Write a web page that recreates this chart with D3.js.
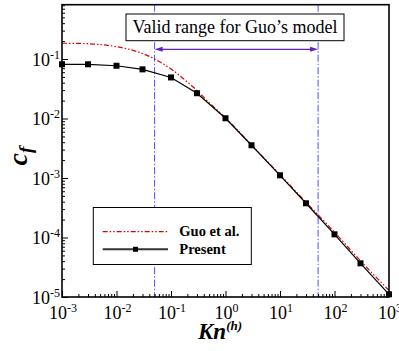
<!DOCTYPE html>
<html>
<head>
<meta charset="utf-8">
<script src="https://cdn.jsdelivr.net/npm/d3@7"></script>
<style>
  body { margin: 0; background: #fff; }
  svg { display: block; }
</style>
</head>
<body>
<svg id="chart" width="399" height="351"></svg>
<script>
// Skin-friction coefficient versus Knudsen number
const knPresent = [0.001, 0.003, 0.01, 0.03, 0.1, 0.3, 1, 3, 10, 30, 100, 300, 1000];
const cfPresent = [0.0815, 0.0815, 0.077, 0.067, 0.049, 0.0266, 0.0101, 0.00355, 0.00111, 0.000376, 0.000113, 0.0000368, 0.0000111];

const knGuo = [0.001, 0.002, 0.005, 0.01, 0.02, 0.03, 0.05, 0.1, 0.2, 0.3, 0.5, 1, 3, 10, 30, 100, 300, 1000];
const cfGuo = [0.184, 0.183, 0.175, 0.161, 0.140, 0.124, 0.100, 0.068, 0.041, 0.0295, 0.0185, 0.0103, 0.0036, 0.00114, 0.000392, 0.000123, 0.0000405, 0.0000129];

const xTickExps = [-3, -2, -1, 0, 1, 2, 3];
const yTickExps = [-5, -4, -3, -2, -1];
const validRange = [0.05, 50];
const rangeLabel = "Valid range for Guo\u2019s model";
const legendLabels = ["Guo et al.", "Present"];

const FONT = '"Liberation Serif", "Times New Roman"';

const svg = d3.select("#chart");
const plot = { left: 62, right: 389, top: 4.7, bottom: 297 };

const x = d3.scaleLog().domain([1e-3, 1e3]).range([plot.left, plot.right]);
const y = d3.scaleLog().domain([1e-5, 0.818]).range([plot.bottom, plot.top]);

svg.append("defs").append("clipPath").attr("id", "plotClip")
  .append("rect")
  .attr("x", plot.left).attr("y", plot.top)
  .attr("width", plot.right - plot.left).attr("height", plot.bottom - plot.top);

const body = svg.append("g").attr("clip-path", "url(#plotClip)");

// validity limits
body.selectAll("line.limit").data(validRange).join("line")
  .attr("class", "limit")
  .attr("x1", d => x(d)).attr("x2", d => x(d))
  .attr("y1", plot.top).attr("y2", plot.bottom)
  .attr("stroke", "#4d4dff").attr("stroke-width", 1)
  .attr("stroke-dasharray", "7,2,1.5,2");

// Guo et al. curve
const guoPts = knGuo.map((k, i) => [k, cfGuo[i]]);
body.append("path").datum(guoPts)
  .attr("fill", "none").attr("stroke", "#e00000").attr("stroke-width", 1.2)
  .attr("stroke-dasharray", "5,2,1.5,2,1.5,2")
  .attr("d", d3.line().x(d => x(d[0])).y(d => y(d[1])).curve(d3.curveMonotoneX));

// present results
const presPts = knPresent.map((k, i) => [k, cfPresent[i]]);
body.append("path").datum(presPts)
  .attr("fill", "none").attr("stroke", "#000").attr("stroke-width", 1.2)
  .attr("d", d3.line().x(d => x(d[0])).y(d => y(d[1])));

const ms = 6;
svg.append("g").selectAll("rect").data(presPts).join("rect")
  .attr("x", d => x(d[0]) - ms / 2).attr("y", d => y(d[1]) - ms / 2)
  .attr("width", ms).attr("height", ms).attr("fill", "#000");

// range arrow
const arrowY = 49.3;
const arrowColor = "#6020c0";
const ax0 = x(validRange[0]), ax1 = x(validRange[1]);
svg.append("line")
  .attr("x1", ax0 + 4).attr("x2", ax1 - 4).attr("y1", arrowY).attr("y2", arrowY)
  .attr("stroke", arrowColor).attr("stroke-width", 1.3);
svg.append("path")
  .attr("d", `M${ax0},${arrowY} L${ax0 + 8},${arrowY - 2.5} L${ax0 + 8},${arrowY + 2.5} Z`)
  .attr("fill", arrowColor);
svg.append("path")
  .attr("d", `M${ax1},${arrowY} L${ax1 - 8},${arrowY - 2.5} L${ax1 - 8},${arrowY + 2.5} Z`)
  .attr("fill", arrowColor);

// range annotation box
svg.append("rect")
  .attr("x", 126).attr("y", 14).attr("width", 218).attr("height", 26.7)
  .attr("fill", "#fff").attr("stroke", "#000").attr("stroke-width", 1);
svg.append("text")
  .attr("x", 235).attr("y", 33)
  .attr("text-anchor", "middle")
  .style("font-family", FONT).style("font-size", "18px")
  .text(rangeLabel);

// legend
const lg = svg.append("g");
lg.append("rect")
  .attr("x", 93.3).attr("y", 207.5).attr("width", 158).attr("height", 57)
  .attr("fill", "#fff").attr("stroke", "#000").attr("stroke-width", 1);
const legendRows = [
  { y: 231.7, label: legendLabels[0], stroke: "#e00000", dash: "5,2,1.5,2,1.5,2", width: 1.2, marker: false },
  { y: 249.3, label: legendLabels[1], stroke: "#333", dash: null, width: 2, marker: true }
];
legendRows.forEach(r => {
  lg.append("line")
    .attr("x1", 102.7).attr("x2", 168).attr("y1", r.y).attr("y2", r.y)
    .attr("stroke", r.stroke).attr("stroke-width", r.width)
    .attr("stroke-dasharray", r.dash);
  if (r.marker) {
    lg.append("rect")
      .attr("x", 135.5 - ms / 2 + 0.5).attr("y", r.y - ms / 2 + 0.5)
      .attr("width", ms - 1).attr("height", ms - 1).attr("fill", "#000");
  }
  lg.append("text")
    .attr("x", 179.3).attr("y", r.y + 4.5)
    .style("font-family", FONT).style("font-size", "14.5px").style("font-weight", "bold")
    .text(r.label);
});

// axes: ticks point inward, major decades longer
const isDecade = d => Math.abs(Math.log10(d) - Math.round(Math.log10(d))) < 1e-6;

const xAxis = svg.append("g").attr("transform", `translate(0,${plot.bottom})`)
  .call(d3.axisBottom(x).tickSize(-3).tickFormat(""));
xAxis.selectAll(".tick line")
  .attr("y2", d => isDecade(d) ? -6 : -3)
  .attr("stroke-width", 1);
xAxis.select(".domain").remove();

const yAxis = svg.append("g").attr("transform", `translate(${plot.left},0)`)
  .call(d3.axisLeft(y).tickSize(-3).tickFormat(""));
yAxis.selectAll(".tick line")
  .attr("x2", d => isDecade(d) ? 6 : 3)
  .attr("stroke-width", 1);
yAxis.select(".domain").remove();

// frame
svg.append("rect")
  .attr("x", plot.left).attr("y", plot.top)
  .attr("width", plot.right - plot.left).attr("height", plot.bottom - plot.top)
  .attr("fill", "none").attr("stroke", "#000").attr("stroke-width", 1.6);

// tick labels
const xl = svg.append("g").selectAll("text").data(xTickExps).join("text")
  .attr("x", e => x(Math.pow(10, e)) + 1).attr("y", 318.5)
  .attr("text-anchor", "middle")
  .style("font-family", FONT).style("font-size", "18px");
xl.append("tspan").text("10");
xl.append("tspan").attr("dy", -7).style("font-size", "12px").text(e => String(e));

const yl = svg.append("g").selectAll("text").data(yTickExps).join("text")
  .attr("x", 60).attr("y", e => y(Math.pow(10, e)) + 6.5)
  .attr("text-anchor", "end")
  .style("font-family", FONT).style("font-size", "18px");
yl.append("tspan").text("10");
yl.append("tspan").attr("dy", -7).style("font-size", "12px").text(e => String(e));

// axis titles
const yt = svg.append("text")
  .attr("transform", "translate(27,156) rotate(-90)")
  .attr("text-anchor", "middle")
  .style("font-family", FONT).style("font-size", "28px")
  .style("font-weight", "bold").style("font-style", "italic");
yt.append("tspan").text("c");
yt.append("tspan").attr("dy", 5).style("font-size", "19px").text("f");

const xt = svg.append("text")
  .attr("x", 198).attr("y", 339)
  .style("font-family", FONT).style("font-size", "23px")
  .style("font-weight", "bold").style("font-style", "italic");
xt.append("tspan").text("Kn");
xt.append("tspan").attr("dy", -9).style("font-size", "13px").text("(h)");
</script>
</body>
</html>
